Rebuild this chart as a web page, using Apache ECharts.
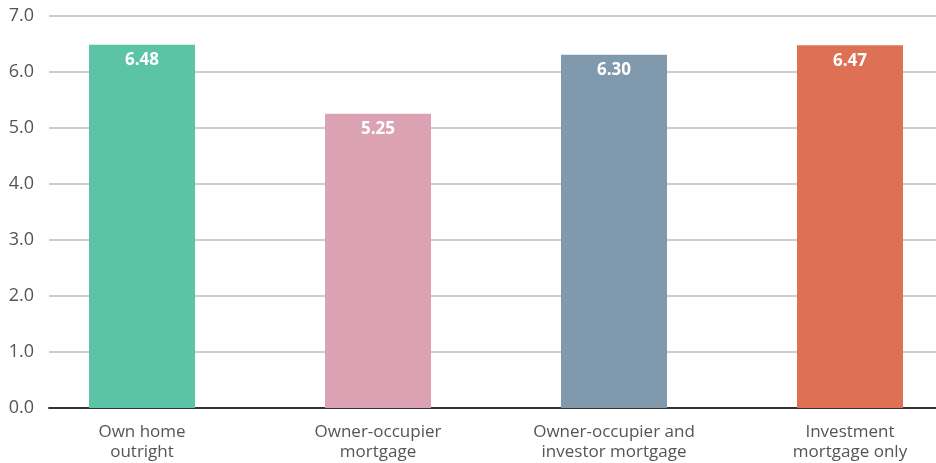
<!DOCTYPE html>
<html>
<head>
<meta charset="utf-8">
<script src="https://cdn.jsdelivr.net/npm/echarts@6/dist/echarts.min.js"></script>
<style>
  html, body { margin: 0; padding: 0; background: #fff; }
  #chart { width: 936px; height: 463px; }
</style>
</head>
<body>
<div id="chart"></div>
<script>
const categories = ['Own home\noutright', 'Owner-occupier\nmortgage', 'Owner-occupier and\ninvestor mortgage', 'Investment\nmortgage only'];
const values = [6.48, 5.25, 6.30, 6.47];
const barColors = ['#5BC4A5', '#DBA2B4', '#8099AC', '#DE7053'];
const yMin = 0, yMax = 7, yStep = 1;

const chart = echarts.init(document.getElementById('chart'), null, { renderer: 'canvas' });
const font = '"Open Sans", "Noto Sans", sans-serif';

chart.setOption({
  animation: false,
  grid: [
    // value scale, gridlines and baseline
    { left: 49, right: 0, top: 15.6, bottom: 55, outerBoundsMode: 'none' },
    // bars and category labels; the band runs past the right edge
    { left: 24, width: 944, top: 15.6, bottom: 55, outerBoundsMode: 'none' }
  ],
  xAxis: [
    {
      gridIndex: 0, type: 'value', min: 0, max: 1,
      axisLine: { show: true, lineStyle: { color: '#333', width: 2 } },
      axisTick: { show: false }, axisLabel: { show: false }, splitLine: { show: false }
    },
    {
      gridIndex: 1, type: 'category', data: categories,
      axisLine: { show: false }, axisTick: { show: false },
      axisLabel: {
        interval: 0, margin: 14, color: '#555', fontSize: 17,
        fontFamily: font, lineHeight: 20
      }
    }
  ],
  yAxis: [
    {
      gridIndex: 0, type: 'value', min: yMin, max: yMax, interval: yStep,
      axisLine: { show: false }, axisTick: { show: false },
      axisLabel: {
        margin: 15, color: '#555', fontSize: 18, fontFamily: font,
        formatter: v => v.toFixed(1)
      },
      splitLine: { lineStyle: { color: '#BDBDBD', width: 1.5 } }
    },
    {
      gridIndex: 1, type: 'value', min: yMin, max: yMax, interval: yStep,
      show: false, splitLine: { show: false }
    }
  ],
  series: [{
    type: 'bar',
    xAxisIndex: 1, yAxisIndex: 1,
    barWidth: 106,
    data: values.map((v, i) => ({ value: v, itemStyle: { color: barColors[i] } })),
    label: {
      show: true, position: 'insideTop', distance: 7,
      color: '#fff', fontWeight: 'bold', fontSize: 17, fontFamily: font,
      formatter: p => p.value.toFixed(2)
    }
  }]
});
</script>
</body>
</html>
